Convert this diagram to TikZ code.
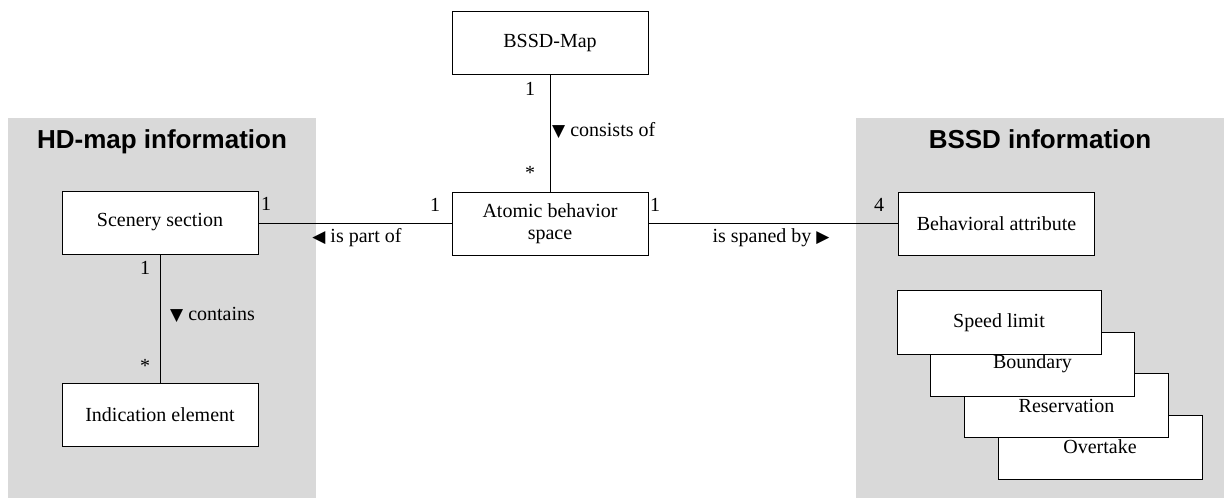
\documentclass[tikz,border=0pt]{standalone}
\usepackage{fontspec}
\setmainfont{Liberation Serif}
\newfontfamily\titlefont{Liberation Sans}
\newfontfamily\symfont{DejaVu Sans}
\definecolor{panelgray}{HTML}{D9D9D9}
% small filled triangle used as the reading direction of an association
\newcommand{\tri}[1]{{\symfont\fontsize{17}{17}\selectfont #1}}
\begin{document}
\begin{tikzpicture}[x=1pt,y=-1pt,
  cls/.style={draw=black, fill=white, line width=1pt, minimum width=196pt,
    minimum height=63pt, inner sep=0pt, outer sep=0pt, align=center,
    font=\fontsize{20}{22}\selectfont},
  kind/.style={cls, minimum width=204pt, minimum height=64pt},
  lbl/.style={inner sep=0pt, anchor=base, font=\fontsize{20}{22}\selectfont},
  ttl/.style={inner sep=0pt, anchor=base, font=\titlefont\bfseries\fontsize{26}{30}\selectfont},
  assoc/.style={line width=1pt}]
\useasboundingbox (0,0) rectangle (1224,498);

% package backgrounds
\fill[panelgray] (8,118) rectangle (316,498);
\fill[panelgray] (856,118) rectangle (1224,498);
\node[ttl] (hdtitle) at (162,148) {HD-map information};
\node[ttl] (bssdtitle) at (1040,148) {BSSD information};

% classes
\node[cls] (map)  at (550,43)    {BSSD-Map};
\node[cls] (abs)  at (550,223.5) {Atomic behavior\\space};
\node[cls] (scen) at (160,222.5) {Scenery section};
\node[cls] (ind)  at (160,415)   {Indication element};
\node[cls] (attr) at (996.5,223.5) {Behavioral attribute};

% stacked attribute kinds, back to front
\node[kind] (over)  at (1100,447)    {Overtake};
\node[kind] (resv)  at (1066.5,405.5) {Reservation};
\node[kind] (bound) at (1032.5,364)  {Boundary};
\node[kind] (speed) at (999,322.5)   {Speed limit};

% associations
\draw[assoc] (map.south) -- (abs.north);
\draw[assoc] (scen.east |- abs.west) -- (abs.west);
\draw[assoc] (abs.east) -- (attr.west |- abs.east);
\draw[assoc] (scen.south) -- (ind.north);

% multiplicities
\node[lbl] (m1) at (530,95)    {1};
\node[lbl] (m2) at (530,179)   {*};
\node[lbl] (m3) at (266,210)   {1};
\node[lbl] (m4) at (435,211.5) {1};
\node[lbl] (m5) at (655,211.5) {1};
\node[lbl] (m6) at (879,211.5) {4};
\node[lbl] (m7) at (145,274)   {1};
\node[lbl] (m8) at (145,372.5) {*};

% association names
\node[lbl, anchor=base west] (consists) at (552,136.5) {\tri{▼} consists of};
\node[lbl, anchor=base west] (contains) at (170,320.5) {\tri{▼} contains};
\node[lbl] (partof) at (357,242) {\tri{◀} is part of};
\node[lbl] (spaned) at (771,242) {is spaned by \tri{▶}};
\end{tikzpicture}
\end{document}
